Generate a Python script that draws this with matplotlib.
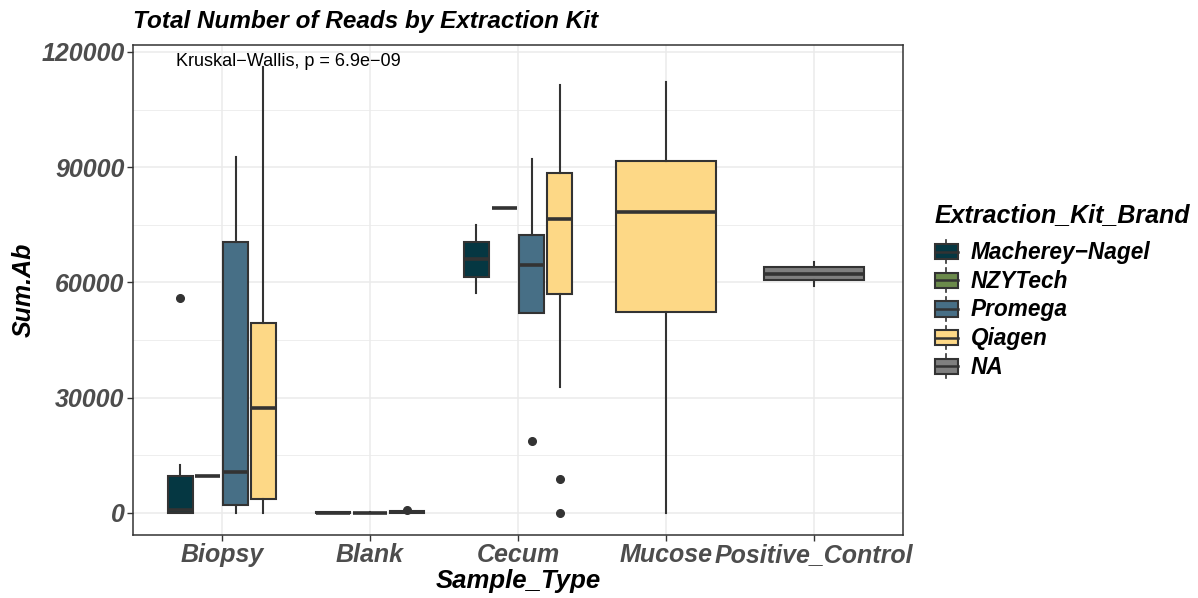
import matplotlib
matplotlib.use('Agg')
import matplotlib.pyplot as plt
from matplotlib import font_manager
from matplotlib.legend_handler import HandlerBase
from matplotlib.patches import Rectangle
from matplotlib.lines import Line2D

# data
sample_types = ['Biopsy', 'Blank', 'Cecum', 'Mucose', 'Positive_Control']
brands = ['Macherey\u2212Nagel', 'NZYTech', 'Promega', 'Qiagen', 'NA']
brand_colors = ['#053742', '#6B8A4B', '#476F86', '#FDD886', '#7F7F7F']

# box stats per sample type: (brand index, whislo, q1, med, q3, whishi, fliers)
biopsy_boxes = [
	(0, 0, 0, 800, 9600, 12500, [56000]),
	(1, 9500, 9500, 9500, 9500, 9500, []),
	(2, 0, 2000, 10700, 70500, 92700, []),
	(3, 0, 3600, 27300, 49500, 116000, []),
]
blank_boxes = [
	(0, 0, 10, 30, 60, 120, []),
	(2, 0, 10, 20, 40, 80, []),
	(3, 0, 50, 150, 350, 450, [700]),
]
cecum_boxes = [
	(0, 57300, 61500, 66100, 70600, 75000, []),
	(1, 79400, 79400, 79400, 79400, 79400, []),
	(2, 52100, 52100, 64600, 72400, 92000, [18800]),
	(3, 32800, 57000, 76600, 88500, 111500, [8900, 0]),
]
mucose_boxes = [
	(3, 0, 52300, 78400, 91700, 112200, []),
]
control_boxes = [
	(4, 59100, 60700, 62200, 64000, 65300, []),
]
all_boxes = [biopsy_boxes, blank_boxes, cecum_boxes, mucose_boxes, control_boxes]

y_ticks = [0, 30000, 60000, 90000, 120000]

# fonts
names = set(f.name for f in font_manager.fontManager.ttflist)
base_font = 'Liberation Sans' if 'Liberation Sans' in names else 'DejaVu Sans'
plt.rcParams['font.family'] = base_font

edge = '#333333'

fig = plt.figure(figsize=(11.98, 5.98), dpi=100)
ax = fig.add_axes([133/1198, 1 - 535/598, (903-133)/1198, (535-45)/598])

for ci, boxes in enumerate(all_boxes):
	n = len(boxes)
	slot = 0.75 / n
	for i, (b, lo, q1, med, q3, hi, fl) in enumerate(boxes):
		pos = ci + 1 - 0.375 + (i + 0.5) * slot
		st = [dict(whislo=lo, q1=q1, med=med, q3=q3, whishi=hi, fliers=fl)]
		ax.bxp(st, positions=[pos], widths=[slot * 0.9], patch_artist=True,
			showcaps=False, manage_ticks=False,
			boxprops=dict(facecolor=brand_colors[b], edgecolor=edge, linewidth=1.5),
			medianprops=dict(color=edge, linewidth=2.6, solid_capstyle='butt'),
			whiskerprops=dict(color=edge, linewidth=1.5),
			flierprops=dict(marker='o', markerfacecolor=edge, markeredgecolor=edge, markersize=5.5))

ax.set_xlim(0.4, 5.6)
ax.set_ylim(-5800, 121800)
ax.set_xticks(range(1, 6))
ax.set_xticklabels(sample_types, fontsize=18, fontweight='bold',
	fontstyle='italic', color='#4D4D4D')
ax.set_yticks(y_ticks)
ax.set_yticklabels([str(v) for v in y_ticks], fontsize=18, fontweight='bold',
	fontstyle='italic', color='#4D4D4D')
ax.set_yticks([15000, 45000, 75000, 105000], minor=True)
ax.tick_params(axis='both', which='major', length=4, width=1, color=edge, pad=2)
ax.tick_params(axis='y', which='minor', length=0)

ax.grid(True, which='major', color='#EBEBEB', linewidth=1.1)
ax.grid(True, which='minor', axis='y', color='#EBEBEB', linewidth=0.6)
ax.set_axisbelow(True)
for s in ax.spines.values():
	s.set_color(edge)
	s.set_linewidth(1.1)

ax.set_xlabel('Sample_Type', fontsize=18.5, fontweight='bold',
	fontstyle='italic', labelpad=1)
ax.set_ylabel('Sum.Ab', fontsize=18, fontweight='bold',
	fontstyle='italic', labelpad=4)
ax.set_title('Total Number of Reads by Extraction Kit', fontsize=17.5,
	fontweight='bold', fontstyle='italic', loc='left', pad=12)

ax.text(0.69, 117500, 'Kruskal\u2212Wallis, p = 6.9e\u221209', fontsize=13,
	ha='left', va='center', color='black')

# legend keys drawn like ggplot boxplot keys
class BoxKey(HandlerBase):
	def create_artists(self, legend, orig, xd, yd, w, h, fontsize, trans):
		cx = xd + w / 2
		r = Rectangle((xd, yd), w, h, facecolor=orig.get_facecolor(),
			edgecolor=edge, linewidth=1.5, transform=trans)
		m = Line2D([xd, xd + w], [yd + h / 2, yd + h / 2], color=edge, linewidth=1.8, transform=trans)
		w1 = Line2D([cx, cx], [yd + h, yd + h * 1.27], color=edge, linewidth=1.2, transform=trans)
		w2 = Line2D([cx, cx], [yd - h * 0.27, yd], color=edge, linewidth=1.2, transform=trans)
		return [r, w1, w2, m]

handles = [Rectangle((0, 0), 1, 1, facecolor=c) for c in brand_colors]
leg = fig.legend(handles, brands, handler_map={Rectangle: BoxKey()},
	loc='upper left', bbox_to_anchor=(935/1198, 1 - 203/598), frameon=False,
	title='Extraction_Kit_Brand', handlelength=1.0, handleheight=0.66,
	handletextpad=0.57, labelspacing=0.25, borderaxespad=0, borderpad=0,
	prop=dict(size=16.3, weight='bold', style='italic'),
	title_fontproperties=dict(size=18, weight='bold', style='italic'))
leg._legend_box.align = 'left'
leg._legend_box.sep = 10

fig.savefig('out.png', dpi=100)
